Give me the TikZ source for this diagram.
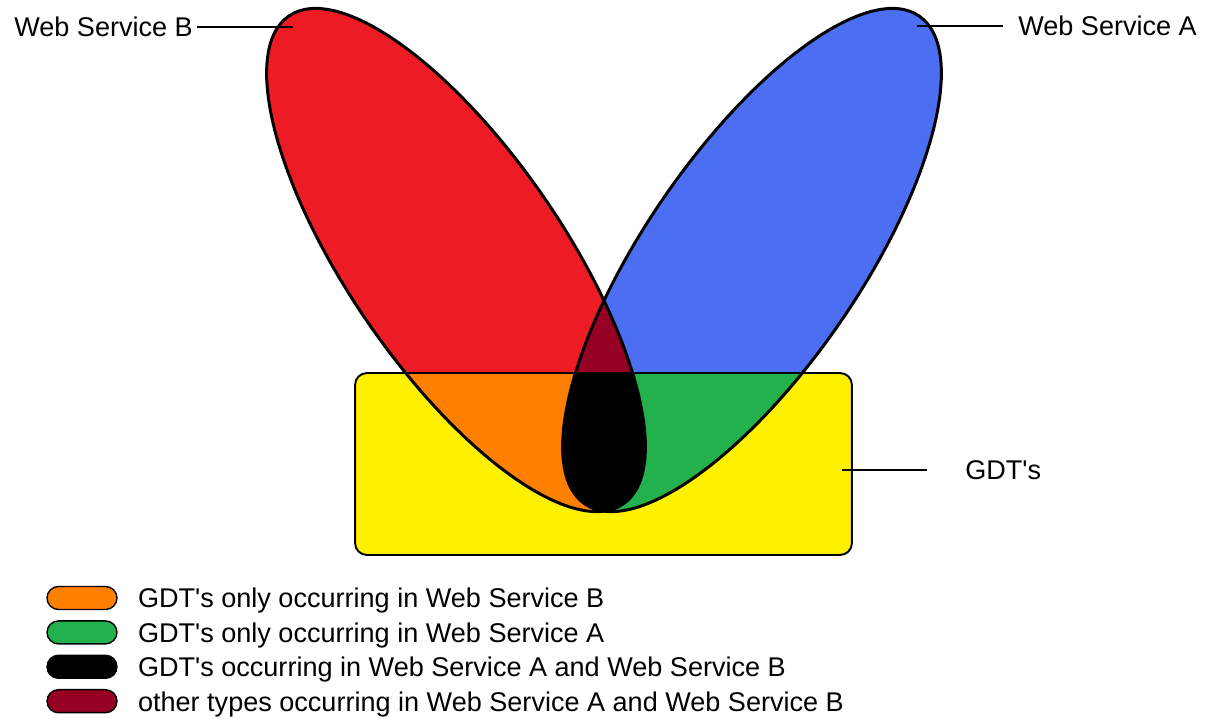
\documentclass[tikz,border=0pt]{standalone}
\usepackage{fontspec}
\setmainfont{Liberation Sans}
\usetikzlibrary{positioning}
\definecolor{wsred}{RGB}{237,28,36}
\definecolor{wsblue}{RGB}{76,110,242}
\definecolor{gdtyellow}{RGB}{255,242,0}
\definecolor{gdtorange}{RGB}{255,127,0}
\definecolor{gdtgreen}{RGB}{34,177,76}
\definecolor{othermaroon}{RGB}{150,0,35}
\newcommand{\wsbellipse}{(456,260) ellipse (5.916cm and 2.16cm)}
\newcommand{\wsaellipse}{(752,260) ellipse (5.916cm and 2.16cm)}
\newcommand{\gdt}{GDT\textquotesingle s}

\begin{document}
\begin{tikzpicture}[
  x=0.02cm, y=-0.02cm,
  font=\fontsize{15.4}{18}\selectfont,
  wsbrot/.style={rotate around={-55.6:(456,260)}},
  wsarot/.style={rotate around={55.6:(752,260)}},
  outline/.style={draw=black,line width=1.7pt},
  gdtbox/.style={fill=gdtyellow,rounded corners=0.24cm,minimum width=9.94cm,minimum height=3.64cm,inner sep=0pt,outer sep=0pt},
  lbl/.style={inner sep=0pt,text depth=0pt,anchor=west},
  pin/.style={line width=0.8pt},
  keypill/.style={draw,line width=0.8pt,rounded corners=0.23cm,minimum width=1.4cm,minimum height=0.46cm,inner sep=0pt},
  keytext/.style={inner sep=0pt,text depth=0pt}
]
\useasboundingbox (0,0) rectangle (1208,719);

% service sets
\fill[wsred,wsbrot] \wsbellipse;
\fill[wsblue,wsarot] \wsaellipse;
\begin{scope}
  \clip[wsbrot] \wsbellipse;
  \fill[othermaroon,wsarot] \wsaellipse;
\end{scope}

% GDT box and its parts
\node[gdtbox] (gdt) at (603.5,464) {};
\begin{scope}
  \clip[rounded corners=0.24cm] (gdt.south west) rectangle (gdt.north east);
  \fill[gdtorange,wsbrot] \wsbellipse;
  \fill[gdtgreen,wsarot] \wsaellipse;
  \clip[wsbrot] \wsbellipse;
  \fill[black,wsarot] \wsaellipse;
\end{scope}
\draw[outline,wsbrot] \wsbellipse;
\draw[outline,wsarot] \wsaellipse;
\draw[line width=1.1pt,rounded corners=0.24cm] (gdt.south west) rectangle (gdt.north east);

% labels
\node[lbl] (wsblbl) at (14,27) {Web Service B};
\coordinate (wsbpin) at (293,27);
\draw[pin,shorten <=0.08cm] (wsblbl.east) -- (wsbpin);
\node[lbl] (wsalbl) at (1018,26) {Web Service A};
\coordinate (wsapin) at (917,26);
\draw[pin,shorten >=0.3cm] (wsapin) -- (wsalbl.west);
\node[lbl] (gdtlbl) at (965,470) {\gdt};
\coordinate (gdtpin) at (842,470);
\draw[pin,shorten >=0.76cm] (gdtpin) -- (gdtlbl.west);

% legend
\node[keypill,fill=gdtorange] (keyb) at (82,598) {};
\node[keypill,fill=gdtgreen,below=0.2cm of keyb] (keya) {};
\node[keypill,fill=black,below=0.2cm of keya] (keyab) {};
\node[keypill,fill=othermaroon,below=0.2cm of keyab] (keyother) {};
\node[keytext,right=0.4cm of keyb] (txtb) {\gdt{} only occurring in Web Service B};
\node[keytext,right=0.4cm of keya] (txta) {\gdt{} only occurring in Web Service A};
\node[keytext,right=0.4cm of keyab] (txtab) {\gdt{} occurring in Web Service A and Web Service B};
\node[keytext,right=0.4cm of keyother] (txtother) {other types occurring in Web Service A and Web Service B};
\end{tikzpicture}
\end{document}
